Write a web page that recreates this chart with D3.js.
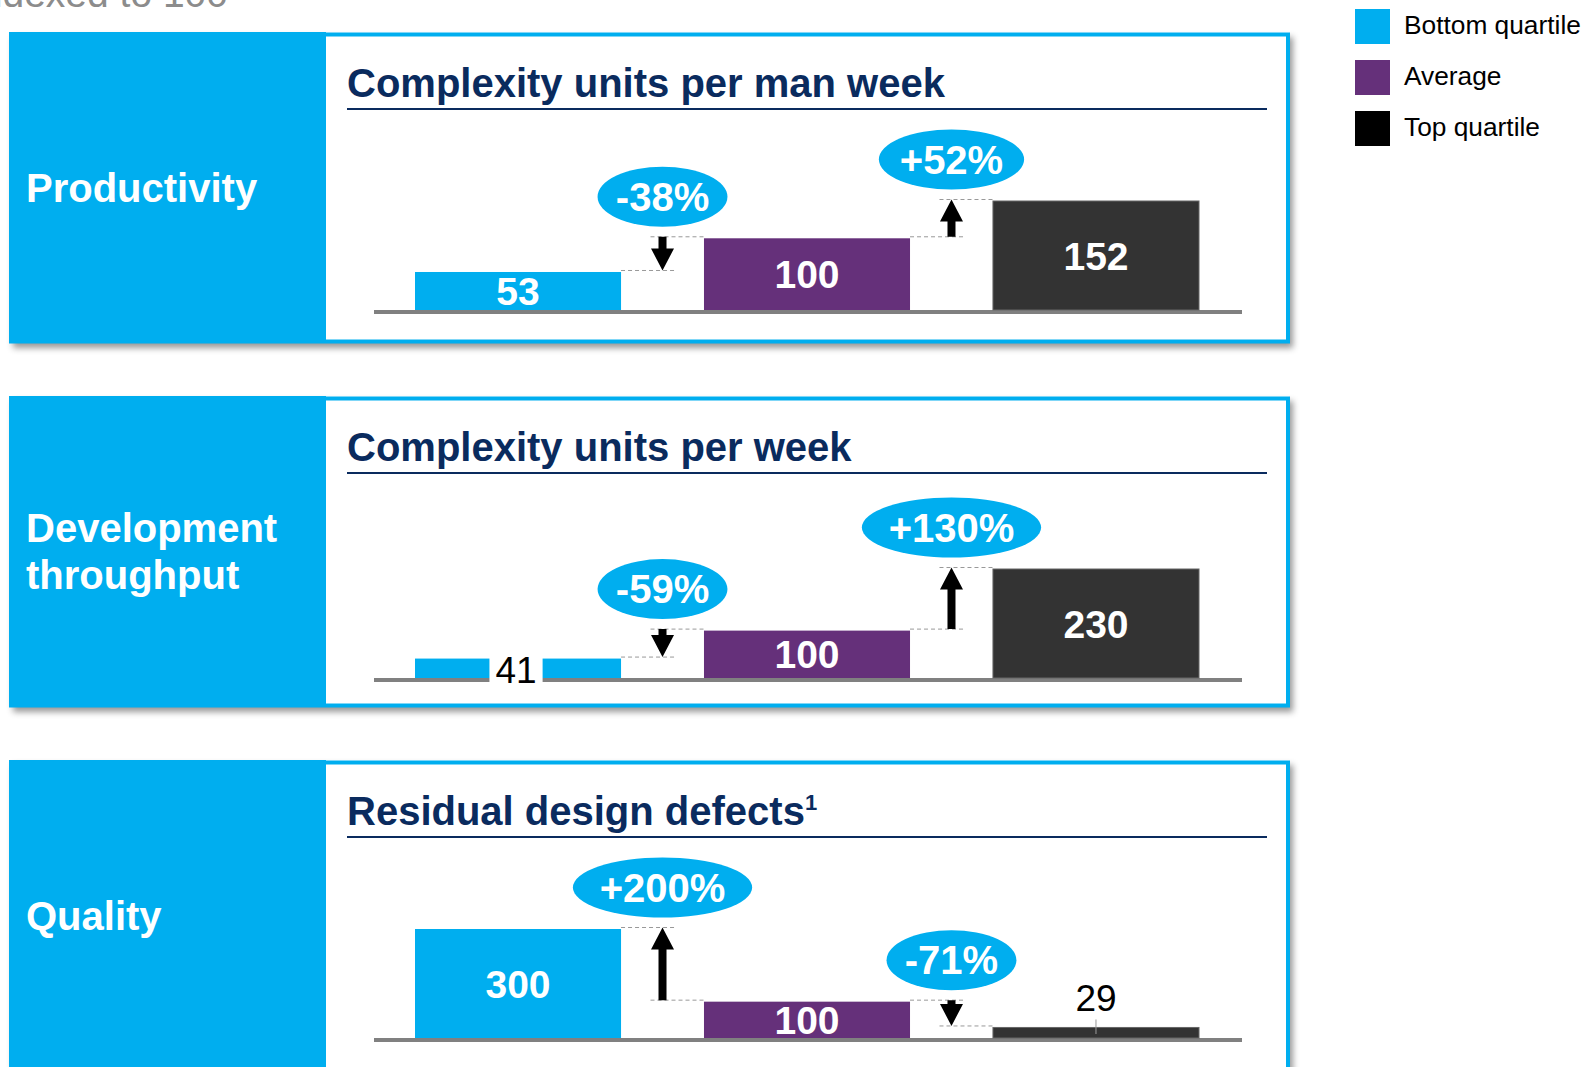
<!DOCTYPE html>
<html>
<head>
<meta charset="utf-8">
<script src="https://cdn.jsdelivr.net/npm/d3@7"></script>
<style>
  body { margin: 0; background: #fff; overflow: hidden; }
  svg { display: block; font-family: "Liberation Sans", Arial, sans-serif; }
</style>
</head>
<body>
<div id="chart"></div>
<script>
// data
const groups = ["Bottom quartile", "Average", "Top quartile"];
const panelLabels = [["Productivity"], ["Development", "throughput"], ["Quality"]];
const panelTitles = ["Complexity units per man week", "Complexity units per week", "Residual design defects"];
const titleNotes = ["", "", "1"];
const productivity = [53, 100, 152];
const throughput = [41, 100, 230];
const quality = [300, 100, 29];
const productivityChange = ["-38%", "+52%"];
const throughputChange = ["-59%", "+130%"];
const qualityChange = ["+200%", "-71%"];

const panels = [
  { label: panelLabels[0], title: panelTitles[0], note: titleNotes[0], values: productivity, change: productivityChange },
  { label: panelLabels[1], title: panelTitles[1], note: titleNotes[1], values: throughput, change: throughputChange },
  { label: panelLabels[2], title: panelTitles[2], note: titleNotes[2], values: quality, change: qualityChange }
];

const cyan = "#00AEEF", navy = "#0A2B5E";
const barColors = d3.scaleOrdinal().domain(groups).range([cyan, "#65307A", "#333333"]);
const legendColors = d3.scaleOrdinal().domain(groups).range([cyan, "#65307A", "#000000"]);

const W = 1585, H = 1067;
const svg = d3.select("#chart").append("svg").attr("width", W).attr("height", H);

// drop shadow for the panels
const defs = svg.append("defs");
const f = defs.append("filter").attr("id", "shadow")
  .attr("x", "-2%").attr("y", "-5%").attr("width", "106%").attr("height", "120%");
f.append("feDropShadow").attr("dx", 4).attr("dy", 5).attr("stdDeviation", 3)
  .attr("flood-color", "#000").attr("flood-opacity", 0.4);

// note at the top (cut off by the page edge, as in the original)
svg.append("text")
  .attr("x", 228).attr("y", 7)
  .attr("text-anchor", "end")
  .style("font-size", "39px").style("fill", "#8c8c8c")
  .text("Indexed to 100");

// legend
const legend = svg.append("g").attr("transform", "translate(1355,9)");
groups.forEach(function (gname, i) {
  legend.append("rect")
    .attr("x", 0).attr("y", i * 51)
    .attr("width", 35).attr("height", 35)
    .style("fill", legendColors(gname));
  legend.append("text")
    .attr("x", 49).attr("y", i * 51 + 25)
    .style("font-size", "26.3px").style("fill", "#000")
    .text(gname);
});

const panelX = 9, panelW = 1280, panelH = 311, panelStep = 364, firstTop = 32, labelW = 317;
const panelBase = [278, 282, 278];

const x = d3.scaleBand().domain(groups).range([415, 1199]).paddingInner(0.287).paddingOuter(0);
const bw = x.bandwidth();

panels.forEach(function (p, i) {
  const top = firstTop + i * panelStep;
  const base = panelBase[i];
  const g = svg.append("g").attr("transform", "translate(0," + top + ")");

  // panel frame
  g.append("rect")
    .attr("x", panelX).attr("y", 0).attr("width", panelW).attr("height", panelH)
    .style("fill", "#fff").attr("filter", "url(#shadow)");
  g.append("rect")
    .attr("x", panelX + 2).attr("y", 2.5).attr("width", panelW - 3).attr("height", panelH - 4)
    .style("fill", "none").style("stroke", cyan).style("stroke-width", 4);
  g.append("rect")
    .attr("x", panelX).attr("y", 0).attr("width", labelW).attr("height", panelH)
    .style("fill", cyan);

  // left label
  const n = p.label.length;
  p.label.forEach(function (line, k) {
    g.append("text")
      .attr("x", 26).attr("y", panelH / 2 + 14 + (k - (n - 1) / 2) * 47)
      .style("font-size", "40px").style("font-weight", "bold").style("fill", "#fff")
      .text(line);
  });

  // title + rule
  const title = g.append("text")
    .attr("x", 347).attr("y", 65)
    .style("font-size", "40px").style("font-weight", "bold").style("fill", navy)
    .text(p.title);
  if (p.note) {
    title.append("tspan").attr("dy", -15).style("font-size", "22px").text(p.note);
  }
  g.append("line")
    .attr("x1", 347).attr("x2", 1267).attr("y1", 77).attr("y2", 77)
    .style("stroke", navy).style("stroke-width", 2);

  // bars
  const y = d3.scaleLinear().domain([0, d3.max(p.values)]).range([base, base - 109]);

  g.append("line")
    .attr("x1", 374).attr("x2", 1242).attr("y1", base + 2).attr("y2", base + 2)
    .style("stroke", "#808080").style("stroke-width", 4);

  g.selectAll("rect.bar").data(p.values).enter().append("rect")
    .attr("class", "bar")
    .attr("x", function (d, j) { return x(groups[j]); })
    .attr("y", function (d) { return y(d); })
    .attr("width", bw)
    .attr("height", function (d) { return base - y(d); })
    .style("fill", function (d, j) { return barColors(groups[j]); })
    .style("stroke", function (d, j) { return j === 2 ? "#666" : "none"; })
    .style("stroke-width", 1);

  // value labels
  p.values.forEach(function (v, j) {
    const cx = x(groups[j]) + bw / 2;
    const h = base - y(v);
    if (h >= 30) {
      g.append("text")
        .attr("x", cx).attr("y", y(v) + h / 2 + 14)
        .attr("text-anchor", "middle")
        .style("font-size", "39px").style("font-weight", "bold").style("fill", "#fff")
        .text(v);
    } else if (j === 0) {
      const t = g.append("text")
        .attr("x", cx - 2).attr("y", base + 5)
        .attr("text-anchor", "middle")
        .style("font-size", "37px").style("fill", "#000")
        .text(v);
      const bb = t.node().getBBox();
      g.insert("rect", function () { return t.node(); })
        .attr("x", bb.x - 6).attr("y", y(v) - 6)
        .attr("width", bb.width + 12).attr("height", base + 6 - y(v) + 6)
        .style("fill", "#fff");
    } else {
      g.append("line")
        .attr("x1", cx).attr("x2", cx).attr("y1", y(v) - 8).attr("y2", base - 4)
        .style("stroke", "#999").style("stroke-width", 1);
      g.append("text")
        .attr("x", cx).attr("y", y(v) - 16)
        .attr("text-anchor", "middle")
        .style("font-size", "37px").style("fill", "#000")
        .text(v);
    }
  });

  // change arrows and callouts
  p.change.forEach(function (label, k) {
    const L = k, R = k + 1;
    const other = k === 0 ? 0 : 2;
    const ax = (x(groups[L]) + bw + x(groups[R])) / 2;
    const yL = y(p.values[L]) - 1.5, yR = y(p.values[R]) - 1.5;

    g.append("line")
      .attr("x1", x(groups[L]) + bw).attr("x2", ax + 12).attr("y1", yL).attr("y2", yL)
      .style("stroke", "#999").style("stroke-width", 1).style("stroke-dasharray", "4,3");
    g.append("line")
      .attr("x1", ax - 12).attr("x2", x(groups[R])).attr("y1", yR).attr("y2", yR)
      .style("stroke", "#999").style("stroke-width", 1).style("stroke-dasharray", "4,3");

    const from = y(p.values[1]) - 1.5, to = y(p.values[other]) - 1.5;
    const dir = to > from ? 1 : -1;
    const hl = Math.min(22, Math.abs(to - from));
    const neck = to - dir * hl;
    const pts = [[ax - 4, from], [ax + 4, from], [ax + 4, neck], [ax + 11.5, neck],
                 [ax, to], [ax - 11.5, neck], [ax - 4, neck]];
    g.append("path")
      .attr("d", d3.line()(pts) + "Z")
      .style("fill", "#000");

    const cy = Math.min(yL, yR) - 40;
    const el = g.append("ellipse").attr("cx", ax).attr("cy", cy).attr("ry", 30).style("fill", cyan);
    const t = g.append("text")
      .attr("x", ax).attr("y", cy).attr("dy", "0.35em")
      .attr("text-anchor", "middle")
      .style("font-size", "40px").style("font-weight", "bold").style("fill", "#fff")
      .text(label);
    const tw = t.node().getComputedTextLength();
    el.attr("rx", (1.53 * tw - 13) / 2);
  });
});
</script>
</body>
</html>
